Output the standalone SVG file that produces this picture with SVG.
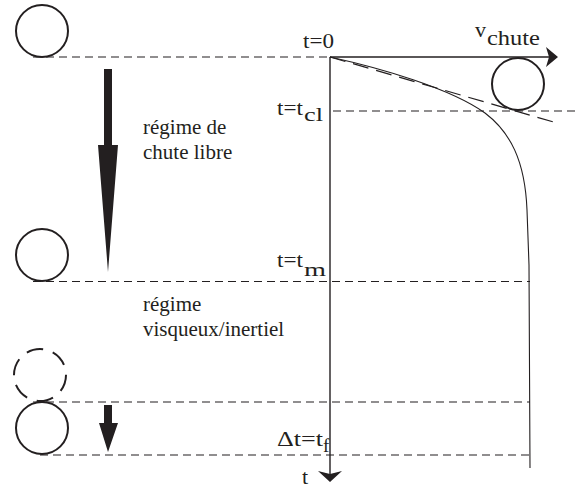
<svg xmlns="http://www.w3.org/2000/svg" width="576" height="491" viewBox="0 0 576 491">
<style>
.dash{stroke:#231f20;stroke-width:1.1;stroke-dasharray:8 5;fill:none}
.ball{fill:none;stroke:#231f20;stroke-width:2}
text{fill:#231f20;font-family:'Liberation Serif','Times New Roman',serif}
.txt{font-size:21px}
.lbl{font-size:22px}
.sub{font-size:19px}
.fill{fill:#231f20;stroke:none}
</style>
<rect width="576" height="491" fill="#fff"/>
<g id="connectors">
<line class="dash" x1="33" y1="57" x2="330" y2="57"/>
<line class="dash" x1="333" y1="111" x2="576" y2="111"/>
<line class="dash" x1="33" y1="281.5" x2="530" y2="281.5"/>
<line class="dash" x1="33" y1="402" x2="530" y2="402"/>
<line class="dash" x1="40" y1="455" x2="530" y2="455"/>
<line x1="330" y1="57" x2="557" y2="123" stroke="#231f20" stroke-width="1.2" stroke-dasharray="16 8"/>
<path d="M330,57 C380,68 450,88 485,113 C510,132 525,160 527,210 L529,265 L530,468" fill="none" stroke="#231f20" stroke-width="1.1"/>
<line x1="330" y1="57" x2="330" y2="474" stroke="#231f20" stroke-width="1.4"/>
<path class="fill" d="M318,471 L330,474 L342,471 L330,482 Z"/>
<line x1="330" y1="57" x2="550" y2="57" stroke="#231f20" stroke-width="1.4"/>
<path class="fill" d="M546,47 L558,57 L546,67 L549,57 Z"/>
<path class="fill" d="M104,69 H112 V145 H118 L108,272 L98,145 H104 Z"/>
<path class="fill" d="M104,405 H112 V423 H118 L108,452 L99,423 H104 Z"/>
</g>
<g id="ball-top"><circle class="ball" cx="42" cy="31" r="26"/></g>
<g id="ball-tm"><circle class="ball" cx="42" cy="255" r="26"/></g>
<g id="ball-dashed"><circle class="ball" cx="40" cy="375" r="26" stroke-dasharray="17 10"/></g>
<g id="ball-bottom"><circle class="ball" cx="42" cy="428" r="26"/></g>
<g id="ball-right"><circle class="ball" cx="518" cy="84" r="26"/></g>
<g id="labels">
<text class="lbl" x="303" y="48" textLength="31" lengthAdjust="spacingAndGlyphs">t=0</text>
<text class="lbl" x="475" y="37">v</text>
<text class="lbl" x="487" y="45" textLength="53" lengthAdjust="spacingAndGlyphs">chute</text>
<text class="lbl" x="277" y="115" textLength="26" lengthAdjust="spacingAndGlyphs">t=t</text>
<text class="sub" x="304" y="121" textLength="19" lengthAdjust="spacingAndGlyphs">cl</text>
<text class="lbl" x="277" y="267" textLength="26" lengthAdjust="spacingAndGlyphs">t=t</text>
<text class="sub" x="304" y="276" textLength="22" lengthAdjust="spacingAndGlyphs">m</text>
<text class="lbl" x="277" y="446" textLength="46" lengthAdjust="spacingAndGlyphs">Δt=t</text>
<text class="sub" x="323" y="452">f</text>
<text class="lbl" x="302" y="484">t</text>
<text class="txt" x="143" y="134">régime de</text>
<text class="txt" x="143" y="159">chute libre</text>
<text class="txt" x="143" y="311">régime</text>
<text class="txt" x="143" y="336">visqueux/inertiel</text>
</g>
</svg>
